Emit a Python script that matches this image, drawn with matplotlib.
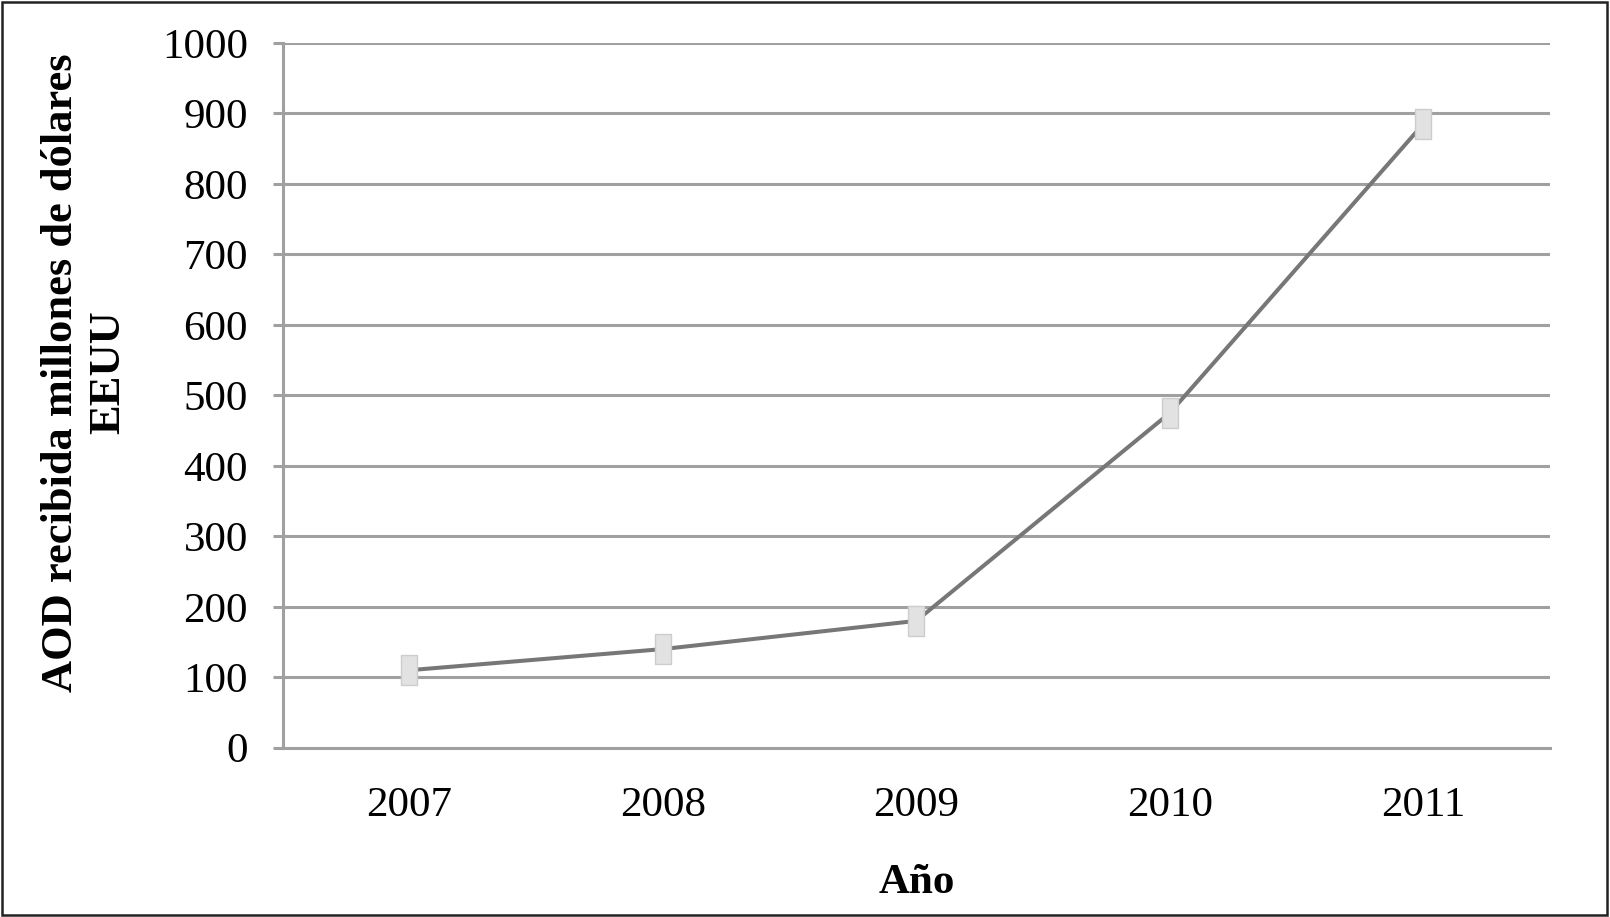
import numpy as np
import matplotlib.pyplot as plt
from matplotlib.path import Path
from matplotlib.patches import Rectangle

# data
years = ["2007", "2008", "2009", "2010", "2011"]
aod = [110, 140, 180, 475, 885]
y_ticks = [0, 100, 200, 300, 400, 500, 600, 700, 800, 900, 1000]

plt.rcParams['font.family'] = ['Liberation Serif', 'DejaVu Serif']

# tall rectangle marker like the Excel one
w, h = 0.28, 0.5
marker_path = Path([(-w, -h), (w, -h), (w, h), (-w, h), (-w, -h)],
                   [Path.MOVETO, Path.LINETO, Path.LINETO, Path.LINETO, Path.CLOSEPOLY])

fig = plt.figure(figsize=(16.1, 9.17), dpi=100)
ax = fig.add_axes([0.1756, 0.1846, 0.9627 - 0.1756, 0.9531 - 0.1846])

x = np.arange(len(years))
ax.plot(x, aod, color='#777777', lw=2.9, zorder=3)
ax.plot(x, aod, ls='none', marker=marker_path, markersize=21,
        markerfacecolor='#e2e2e2', markeredgecolor='#cdcdcd', markeredgewidth=1, zorder=4)

ax.set_xlim(-0.5, len(years) - 0.5)
ax.set_ylim(0, 1000)
ax.set_xticks(x)
ax.set_xticklabels(years)
ax.set_yticks(y_ticks)

ax.yaxis.grid(True, color='#a0a0a0', lw=2.2)
ax.set_axisbelow(True)
for s in ['top', 'right', 'bottom']:
    ax.spines[s].set_visible(False)
ax.spines['left'].set_color('#a0a0a0')
ax.spines['left'].set_linewidth(2.2)

ax.tick_params(axis='y', length=7, width=2.2, color='#a0a0a0', labelsize=31, pad=18)
ax.tick_params(axis='x', length=0, labelsize=31, pad=28)
# extend bottom gridline as the x axis line
ax.axhline(0, color='#a0a0a0', lw=2.2, zorder=1, clip_on=False)

ax.set_xlabel("Año", fontsize=31, fontweight='bold', labelpad=28)

fig.text(0.0525, 0.594, "AOD recibida millones de dólares\nEEUU", rotation=90,
         ha='center', va='center', multialignment='center', fontsize=32,
         fontweight='bold', linespacing=1.25)

# outer border
fig.patches.append(Rectangle((0.0015, 0.002), 0.9965, 0.9955, transform=fig.transFigure,
                             fill=False, edgecolor='#222222', lw=1.8))

fig.savefig("out.png", dpi=100)
